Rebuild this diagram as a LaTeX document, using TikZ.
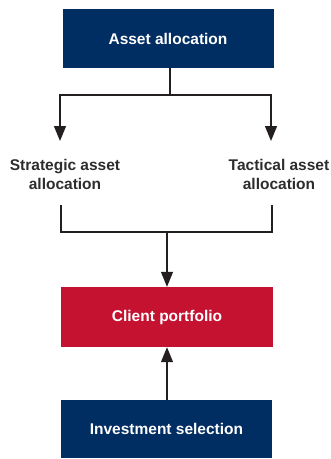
\documentclass[tikz,border=0pt]{standalone}
\usepackage{fontspec}
\setmainfont{Liberation Sans}
\usetikzlibrary{arrows.meta}
\definecolor{navy}{RGB}{0,45,98}
\definecolor{crimson}{RGB}{196,18,48}
\definecolor{ink}{RGB}{35,31,32}
\definecolor{lbl}{RGB}{45,45,45}
\begin{document}
\begin{tikzpicture}[x=1pt,y=-1pt,
  boxstyle/.style={rectangle, inner sep=0pt, minimum width=211pt, minimum height=59pt,
    text=white, font=\fontsize{15.5}{19}\selectfont\bfseries},
  lblstyle/.style={inner sep=0pt, align=center, text=lbl, font=\fontsize{15.5}{19}\selectfont\bfseries},
  conn/.style={draw=ink, line width=1.3pt},
  arr/.style={conn, -{Triangle[width=12pt,length=15pt]}}]
\useasboundingbox (0,0) rectangle (331,459);
\node[boxstyle, fill=navy] (top) at (168,38.5) {Asset allocation};
\node[boxstyle, fill=crimson, minimum width=212pt, minimum height=60pt] (client) at (167,317) {Client portfolio};
\node[boxstyle, fill=navy, minimum height=58pt] (invest) at (166.5,429) {Investment selection};
\node[lblstyle] (strat) at (65,174) {Strategic asset\\allocation};
\node[lblstyle] (tact) at (279,174) {Tactical asset\\allocation};
% split
\coordinate (split) at (170,95);
\coordinate (sa) at (60,141);
\coordinate (ta) at (271,141);
\draw[conn] (top.south -| split) -- (split);
\draw[arr] (split) -| (sa);
\draw[arr] (split) -| (ta);
% merge
\coordinate (sb) at (61,205);
\coordinate (tb) at (272,205);
\coordinate (merge) at (167,232);
\draw[conn] (sb) |- (merge) -| (tb);
\draw[arr] (merge) -- (client.north -| merge);
% up
\draw[arr] (invest.north -| merge) -- (client.south -| merge);
\end{tikzpicture}
\end{document}
